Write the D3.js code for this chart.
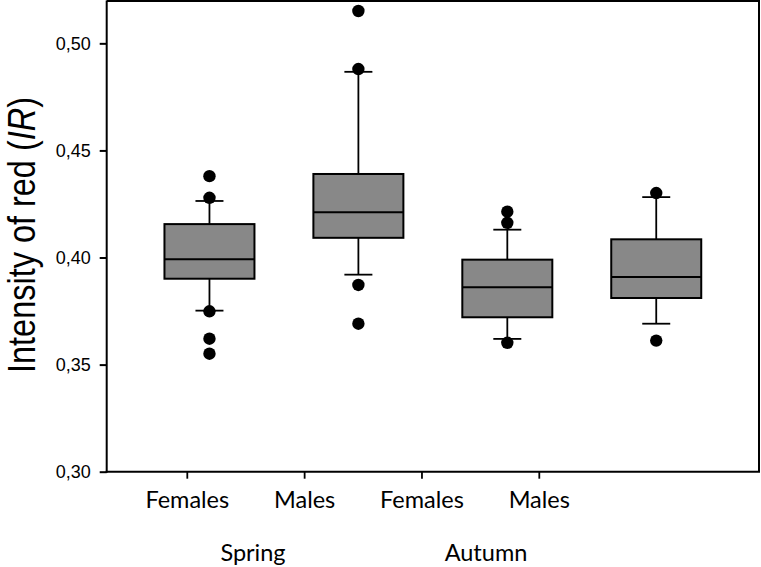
<!DOCTYPE html>
<html>
<head>
<meta charset="utf-8">
<script src="https://cdn.jsdelivr.net/npm/d3@7"></script>
<style>
  html, body { margin: 0; padding: 0; background: #fff; }
  svg { display: block; }
</style>
</head>
<body>
<svg id="chart" width="761" height="567"></svg>
<script>
// ---- data ----
const categories = ["Spring Females", "Spring Males", "Autumn Females", "Autumn Males"];
const groupLabels = ["Females", "Males", "Females", "Males"];
const seasons = ["Spring", "Autumn"];
const q1 = [0.3901, 0.4092, 0.3721, 0.3811];
const median = [0.3992, 0.4211, 0.3861, 0.3909];
const q3 = [0.4156, 0.4390, 0.3990, 0.4085];
const whiskerLow = [0.3752, 0.3920, 0.3620, 0.3691];
const whiskerHigh = [0.4264, 0.4867, 0.4130, 0.4282];
const outliers = [
  [0.4380, 0.4279, 0.3749, 0.3621, 0.3551],
  [0.5151, 0.4880, 0.3872, 0.3691],
  [0.4214, 0.4162, 0.3602],
  [0.4301, 0.3612]
];
const yTicks = [0.30, 0.35, 0.40, 0.45, 0.50];

// ---- layout ----
const L = 106.7, R = 759, T = 0.5, B = 471.7;
const svg = d3.select("#chart");

const y = d3.scaleLinear().domain([0.30, 0.52]).range([B, T]);
const x = d3.scalePoint().domain(categories).range([L, R]).padding(0.69);
const xLab = d3.scalePoint().domain(d3.range(groupLabels.length)).range([187.3, 539.3]);
const xSeason = d3.scalePoint().domain(seasons).range([253, 486]);

const boxW = 90, capW = 28, dotR = 6.2;

const data = categories.map((c, i) => ({
  c, q1: q1[i], med: median[i], q3: q3[i], lo: whiskerLow[i], hi: whiskerHigh[i], out: outliers[i]
}));

const g = svg.append("g");

const w = g.selectAll("g.box").data(data).join("g").attr("class", "box");
w.append("line")
  .attr("x1", d => x(d.c)).attr("x2", d => x(d.c))
  .attr("y1", d => y(d.q3)).attr("y2", d => y(d.hi))
  .attr("stroke", "#000").attr("stroke-width", 1.8);
w.append("line")
  .attr("x1", d => x(d.c)).attr("x2", d => x(d.c))
  .attr("y1", d => y(d.q1)).attr("y2", d => y(d.lo))
  .attr("stroke", "#000").attr("stroke-width", 1.8);
w.append("line")
  .attr("x1", d => x(d.c) - capW / 2).attr("x2", d => x(d.c) + capW / 2)
  .attr("y1", d => y(d.hi)).attr("y2", d => y(d.hi))
  .attr("stroke", "#000").attr("stroke-width", 1.8);
w.append("line")
  .attr("x1", d => x(d.c) - capW / 2).attr("x2", d => x(d.c) + capW / 2)
  .attr("y1", d => y(d.lo)).attr("y2", d => y(d.lo))
  .attr("stroke", "#000").attr("stroke-width", 1.8);
w.append("rect")
  .attr("x", d => x(d.c) - boxW / 2).attr("width", boxW)
  .attr("y", d => y(d.q3)).attr("height", d => y(d.q1) - y(d.q3))
  .attr("fill", "#888888").attr("stroke", "#000").attr("stroke-width", 2);
w.append("line")
  .attr("x1", d => x(d.c) - boxW / 2).attr("x2", d => x(d.c) + boxW / 2)
  .attr("y1", d => y(d.med)).attr("y2", d => y(d.med))
  .attr("stroke", "#000").attr("stroke-width", 2);
w.selectAll("circle").data(d => d.out.map(v => ({ c: d.c, v }))).join("circle")
  .attr("cx", d => x(d.c)).attr("cy", d => y(d.v)).attr("r", dotR).attr("fill", "#000");

// frame
svg.append("line").attr("x1", L).attr("x2", R + 1).attr("y1", T + 0.5).attr("y2", T + 0.5)
  .attr("stroke", "#000").attr("stroke-width", 2);
svg.append("line").attr("x1", R).attr("x2", R).attr("y1", T).attr("y2", B)
  .attr("stroke", "#000").attr("stroke-width", 2);

// y axis
const yAxis = d3.axisLeft(y).tickValues(yTicks).tickSize(7).tickPadding(9)
  .tickFormat(d => d3.format(".2f")(d).replace(".", ","));
const ya = svg.append("g").attr("transform", `translate(${L},0)`).call(yAxis);
ya.select(".domain").attr("stroke", "#000").attr("stroke-width", 2).attr("d", `M0,${T}V${B + 1}`);
ya.selectAll(".tick line").attr("stroke", "#000").attr("stroke-width", 2);
ya.selectAll(".tick text").attr("font-family", "Liberation Sans, Arial, sans-serif")
  .attr("font-size", 18).attr("fill", "#000");

// x axis line
svg.append("line").attr("x1", L - 1).attr("x2", R + 1).attr("y1", B).attr("y2", B)
  .attr("stroke", "#000").attr("stroke-width", 2);
svg.append("g").selectAll("line").data(d3.range(groupLabels.length)).join("line")
  .attr("x1", i => xLab(i)).attr("x2", i => xLab(i))
  .attr("y1", B).attr("y2", B + 7).attr("stroke", "#000").attr("stroke-width", 1.8);
svg.append("g").selectAll("text").data(groupLabels).join("text")
  .attr("x", (d, i) => xLab(i)).attr("y", 508)
  .attr("text-anchor", "middle")
  .attr("font-family", "Lato, 'Open Sans', sans-serif").attr("font-size", 23.5)
  .attr("fill", "#000")
  .text(d => d);
svg.append("g").selectAll("text").data(seasons).join("text")
  .attr("x", d => xSeason(d)).attr("y", 561)
  .attr("text-anchor", "middle")
  .attr("font-family", "Lato, 'Open Sans', sans-serif").attr("font-size", 23.5)
  .attr("fill", "#000")
  .text(d => d);

// y title
const yt = svg.append("text")
  .attr("transform", `translate(35,235) rotate(-90)`)
  .attr("text-anchor", "middle")
  .attr("font-family", "Liberation Sans, Arial, sans-serif").attr("font-size", 39)
  .attr("fill", "#000")
  .attr("textLength", 276).attr("lengthAdjust", "spacingAndGlyphs");
yt.append("tspan").text("Intensity of red (");
yt.append("tspan").attr("font-style", "italic").text("IR");
yt.append("tspan").text(")");
</script>
</body>
</html>
